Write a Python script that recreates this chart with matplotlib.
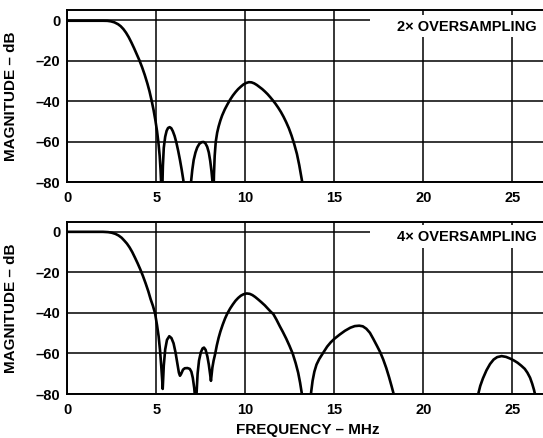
import matplotlib
matplotlib.use("Agg")
import matplotlib.pyplot as plt
from matplotlib.patches import Rectangle

plt.rcParams['font.family'] = ['Liberation Sans', 'DejaVu Sans']
plt.rcParams['font.weight'] = 'bold'

# ---------------- data ----------------
x_ticks = [0, 5, 10, 15, 20, 25]
x_tick_labels = ["0", "5", "10", "15", "20", "25"]
y_ticks = [-80, -60, -40, -20, 0]
y_tick_labels = ["\u201380", "\u201360", "\u201340", "\u201320", "0"]

panel_titles = ["2\u00d7 OVERSAMPLING", "4\u00d7 OVERSAMPLING"]
y_label = "MAGNITUDE \u2013 dB"
x_label = "FREQUENCY \u2013 MHz"

# 2x oversampling response (MHz, dB)
freq_2x = [0, 1.0, 2.0, 2.25, 2.45, 2.65, 2.85, 3.0, 3.15, 3.3, 3.45, 3.6, 3.75, 3.9,
           4.05, 4.2, 4.35, 4.5, 4.62, 4.74, 4.85, 4.95, 5.04, 5.12, 5.19, 5.24, 5.28, 5.3,
           5.33, 5.37, 5.42, 5.5, 5.58, 5.66, 5.75, 5.84, 5.93, 6.03, 6.13, 6.23, 6.33,
           6.43, 6.52, 6.58,
           6.9, 6.95, 7.02, 7.1, 7.2, 7.3, 7.42, 7.55, 7.66, 7.76, 7.86, 7.95, 8.03, 8.1,
           8.16, 8.19,
           8.21, 8.24, 8.28, 8.34, 8.42, 8.5, 8.6, 8.7, 8.85, 9.0, 9.15, 9.3, 9.45, 9.6,
           9.75, 9.9, 10.05, 10.2, 10.35, 10.5, 10.65, 10.8, 10.95, 11.1, 11.25, 11.4,
           11.55, 11.7, 11.85, 12.0, 12.15, 12.3, 12.45, 12.6, 12.75, 12.9, 13.03, 13.13,
           13.22, 13.26]
db_2x = [-0.3, -0.3, -0.3, -0.35, -0.6, -1.1, -2.0, -3.0, -4.4, -6.2, -8.4, -11.0, -13.8,
         -16.8, -19.8, -23.2, -27.0, -31.3, -35.2, -39.8, -44.5, -49.5, -54.7, -60.5, -67,
         -74, -82, -86,
         -86, -72, -63, -57.5, -54.6, -53.2, -52.8, -53.3, -54.8, -57.2, -60.5, -64.5,
         -69, -74, -79, -86,
         -86, -80, -74, -69, -65.3, -62.8, -61, -60.2, -60.1, -60.8, -62.5, -65.3, -69.5,
         -74.5, -80, -88,
         -88, -76, -67, -60, -55.5, -52.5, -49.5, -47, -44, -41.5, -39.2, -37.2, -35.5,
         -34, -32.8, -31.7, -31, -30.6, -30.7, -31.2, -32, -33, -34, -35.2, -36.5, -38,
         -39.6, -41.3, -43.2, -45.3, -47.7, -50.4, -53.4, -57, -61.2, -66, -71.5, -76.5,
         -81, -84]

# 4x oversampling response (MHz, dB), split into the visible lobes
freq_4x_a = [0, 1.0, 2.0, 2.3, 2.5, 2.7, 2.88, 3.05, 3.2, 3.35, 3.5, 3.65, 3.8, 3.95,
             4.1, 4.25, 4.4, 4.55, 4.68, 4.81, 4.93, 5.04, 5.13, 5.21, 5.28, 5.33, 5.36,
             5.42, 5.5, 5.6, 5.73, 5.85, 5.97, 6.08, 6.18, 6.27, 6.33, 6.4, 6.5, 6.6,
             6.75, 6.88, 6.97, 7.05, 7.13, 7.2, 7.26, 7.32, 7.4, 7.5, 7.6, 7.68, 7.77,
             7.87, 7.95, 8.02, 8.07,
             8.15, 8.22, 8.3, 8.4, 8.5, 8.6, 8.73, 8.86, 8.99, 9.15, 9.3, 9.45, 9.6,
             9.75, 9.9, 10.08, 10.25, 10.4, 10.55, 10.73, 10.9, 11.1, 11.3, 11.45, 11.57,
             11.75, 11.94, 12.1, 12.3, 12.48, 12.66, 12.83, 12.97, 13.08, 13.17, 13.21]
db_4x_a = [0, 0, 0, -0.15, -0.45, -1.0, -1.8, -2.9, -4.3, -5.8, -7.7, -10, -12.7, -15.5,
           -18.5, -21.8, -25.4, -29.3, -33.2, -36.5, -40.2, -46, -51.5, -58.5, -66.5, -73,
           -77.5,
           -66, -58, -53.3, -51.5, -52.4, -55, -59.5, -64.8, -69.5, -71, -70, -68, -67.3,
           -67.2, -67.6, -69, -72, -77, -84, -80, -70, -63.5, -59.5, -57.5, -57.1, -58.2,
           -61.5, -65.5, -70, -73.5,
           -67, -63.5, -60.5, -56, -52.3, -49.2, -45.8, -42.8, -40.3, -37.8, -35.8, -34,
           -32.6, -31.5, -30.8, -30.4, -30.6, -31.2, -32.1, -33.4, -34.7, -36.3, -38.2,
           -39.6, -40.5, -43.3, -46.6, -49.2, -52.7, -56.2, -60, -64.8, -69.5, -74.5,
           -79.5, -84]
freq_4x_b = [13.66, 13.7, 13.78, 13.88, 14.0, 14.15, 14.38, 14.6, 14.8, 15.0, 15.3, 15.6,
             15.9, 16.15, 16.4, 16.6, 16.8, 17.0, 17.19, 17.4, 17.58, 17.75, 17.92, 18.08,
             18.22, 18.35, 18.4]
db_4x_b = [-84, -79, -73.5, -69, -65.5, -62.8, -59.6, -56.6, -54.5, -52.8, -50.7, -48.8,
           -47.3, -46.5, -46.3, -46.6, -47.8, -49.8, -52.8, -56.3, -59.4, -63, -67.2,
           -71.8, -76.2, -80.5, -84]
freq_4x_c = [23.05, 23.1, 23.2, 23.35, 23.55, 23.75, 23.95, 24.15, 24.4, 24.65, 24.9,
             25.1, 25.3, 25.5, 25.7, 25.85, 26.0, 26.12, 26.22, 26.3, 26.34]
db_4x_c = [-84, -79.5, -76, -72.3, -68.3, -65.2, -63, -61.8, -61.3, -61.7, -62.6, -63.5,
           -64.6, -66, -67.6, -69.5, -72, -75, -78, -81, -84]

# ---------------- figure ----------------
W, H = 543, 438
fig = plt.figure(figsize=(W / 100, H / 100), dpi=100)

ax_top = fig.add_axes([67.3 / W, 1 - 182.3 / H, 1 - 67.3 / W, 172.3 / H])
ax_bot = fig.add_axes([67.3 / W, 1 - 394.0 / H, 1 - 67.3 / W, 172.3 / H])

series = [
    [(freq_2x, db_2x)],
    [(freq_4x_a, db_4x_a), (freq_4x_b, db_4x_b), (freq_4x_c, db_4x_c)],
]
box_y = [(-8.4, 11.0), (-7.9, 11.5)]
text_y = [-3.3, -2.4]

for i, ax in enumerate([ax_top, ax_bot]):
    ax.set_xlim(0, (W - 67.3) / 17.8)
    ax.set_ylim(-80, 5)
    ax.set_xticks(x_ticks)
    ax.set_xticklabels(x_tick_labels, fontsize=10.5, fontweight='bold')
    ax.set_yticks(y_ticks)
    ax.set_yticklabels(y_tick_labels, fontsize=10.5, fontweight='bold')
    ax.tick_params(axis='both', length=0)
    ax.tick_params(axis='x', pad=6.5)
    ax.tick_params(axis='y', pad=5)
    ax.grid(True, color='black', linewidth=1.1, zorder=0)
    ax.set_axisbelow(True)
    for side in ['left', 'bottom', 'top']:
        ax.spines[side].set_linewidth(1.4)
    ax.spines['right'].set_visible(False)

    for fx, fy in series[i]:
        ax.plot(fx, fy, color='black', linewidth=1.9, solid_joinstyle='round',
                solid_capstyle='round', zorder=3)

    y0, hgt = box_y[i]
    ax.add_patch(Rectangle((17.0, y0), 12, hgt, facecolor='white', edgecolor='none',
                           zorder=2.5))
    ax.text(26.39, text_y[i], panel_titles[i], ha='right', va='center',
            fontsize=10.5, fontweight='bold', zorder=4)

    ax.set_ylabel(y_label, fontsize=11, fontweight='bold')
    ax.yaxis.set_label_coords(-0.1036, 0.5)

ax_bot.set_xlabel(x_label, fontsize=11, fontweight='bold')
ax_bot.xaxis.set_label_coords(0.506, -0.209)
ax_bot.xaxis.label.set_va('center')

fig.savefig("out.png", dpi=100)
